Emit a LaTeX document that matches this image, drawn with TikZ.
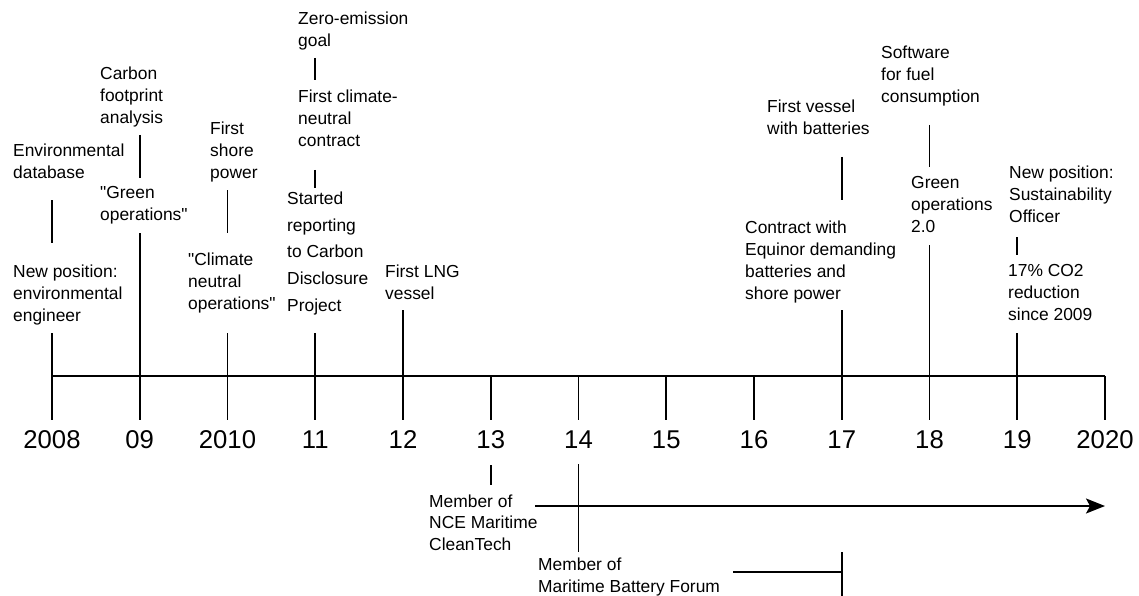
\documentclass[tikz,border=0pt]{standalone}
\usepackage{fontspec}
\setmainfont{Liberation Sans}
\usetikzlibrary{arrows.meta}
\begin{document}
\begin{tikzpicture}[x=1pt,y=-1pt,
  link/.style={line width=1.7pt},
  evt/.style={anchor=north west, inner sep=0pt, align=left, font=\fontsize{17.4}{22}\selectfont},
  evtwide/.style={evt, font=\fontsize{17.4}{26.7}\selectfont},
  evtlow/.style={evt, font=\fontsize{17.4}{21.5}\selectfont},
  yr/.style={inner sep=0pt, font=\fontsize{25.7}{30}\selectfont}]
\useasboundingbox (0,0) rectangle (1139,596);

% axis with ticks and year labels
\foreach \lab [count=\i from 0] in {2008,09,2010,11,12,13,14,15,16,17,18,19,2020} {
  \coordinate (t\i) at ({52+87.75*\i},376);
  \coordinate (b\i) at ({52+87.75*\i},420);
  \node[yr] (y\i) at ({52+87.75*\i},440) {\lab};
  \draw[link] (t\i) -- (b\i);
}
\draw[link] (t0) -- (t12);

% 2008
\node[evt] (e08a) at (13,143.5) {Environmental\\database};
\node[evt] (e08b) at (13,264.5) {New position:\\environmental\\engineer};
\coordinate (c08a) at (52,200); \coordinate (c08b) at (52,243); \coordinate (c08c) at (52,333);
\draw[link] (c08a) -- (c08b);
\draw[link] (c08c) -- (t0);

% 2009
\node[evt] (e09a) at (100,66.5) {Carbon\\footprint\\analysis};
\node[evt] (e09b) at (100,186.5) {\textquotedbl Green\\operations\textquotedbl};
\coordinate (c09a) at (139.75,135); \coordinate (c09b) at (139.75,178); \coordinate (c09c) at (139.75,233);
\draw[link] (c09a) -- (c09b);
\draw[link] (c09c) -- (t1);

% 2010
\node[evt] (e10a) at (210,121.5) {First\\shore\\power};
\node[evt] (e10b) at (188,252.5) {\textquotedbl Climate\\neutral\\operations\textquotedbl};
\coordinate (c10a) at (227.5,190); \coordinate (c10b) at (227.5,233); \coordinate (c10c) at (227.5,333);
\draw[link] (c10a) -- (c10b);
\draw[link] (c10c) -- (t2);

% 2011
\node[evt] (e11a) at (298,11.5) {Zero-emission\\goal};
\node[evt] (e11b) at (298,89.5) {First climate-\\neutral\\contract};
\node[evtwide] (e11c) at (287,191.5) {Started\\reporting\\to Carbon\\Disclosure\\Project};
\coordinate (c11a) at (315.25,58); \coordinate (c11b) at (315.25,80);
\coordinate (c11c) at (315.25,170); \coordinate (c11d) at (315.25,188);
\coordinate (c11e) at (315.25,333);
\draw[link] (c11a) -- (c11b);
\draw[link] (c11c) -- (c11d);
\draw[link] (c11e) -- (t3);

% 2012
\node[evt] (e12a) at (385,264.5) {First LNG\\vessel};
\coordinate (c12a) at (403,310);
\draw[link] (c12a) -- (t4);

% 2017
\node[evt] (e17a) at (767,99.5) {First vessel\\with batteries};
\node[evt] (e17b) at (745,220.5) {Contract with\\Equinor demanding\\batteries and\\shore power};
\coordinate (c17a) at (841.75,157); \coordinate (c17b) at (841.75,200); \coordinate (c17c) at (841.75,310);
\draw[link] (c17a) -- (c17b);
\draw[link] (c17c) -- (t9);

% 2018
\node[evt] (e18a) at (881,45.5) {Software\\for fuel\\consumption};
\node[evt] (e18b) at (911,176.5) {Green\\operations\\2.0};
\coordinate (c18a) at (929.5,125); \coordinate (c18b) at (929.5,167); \coordinate (c18c) at (929.5,245);
\draw[link] (c18a) -- (c18b);
\draw[link] (c18c) -- (t10);

% 2019
\node[evt] (e19a) at (1009,165.5) {New position:\\Sustainability\\Officer};
\node[evt] (e19b) at (1008,264.5) {17\% CO2\\reduction\\since 2009};
\coordinate (c19a) at (1017.25,237); \coordinate (c19b) at (1017.25,255); \coordinate (c19c) at (1017.25,333);
\draw[link] (c19a) -- (c19b);
\draw[link] (c19c) -- (t11);

% below the axis
\node[evtlow] (m13) at (429,494.5) {Member of\\NCE Maritime\\CleanTech};
\coordinate (c13a) at (490.75,465); \coordinate (c13b) at (490.75,485);
\draw[link] (c13a) -- (c13b);
\coordinate (c14a) at (578.5,464); \coordinate (c14b) at (578.5,552);
\draw[link] (c14a) -- (c14b);
\coordinate (arrs) at (535,506); \coordinate (arre) at (1105,506);
\draw[link, -{Stealth[length=19pt,width=15pt,inset=4pt]}] (arrs) -- (arre);

\node[evtlow] (m17) at (538,558) {Member of\\Maritime Battery Forum};
\coordinate (c17d) at (733,572); \coordinate (c17e) at (841.75,572);
\coordinate (c17f) at (841.75,552); \coordinate (c17g) at (841.75,596);
\draw[link] (c17d) -- (c17e);
\draw[link] (c17f) -- (c17g);
\end{tikzpicture}
\end{document}
